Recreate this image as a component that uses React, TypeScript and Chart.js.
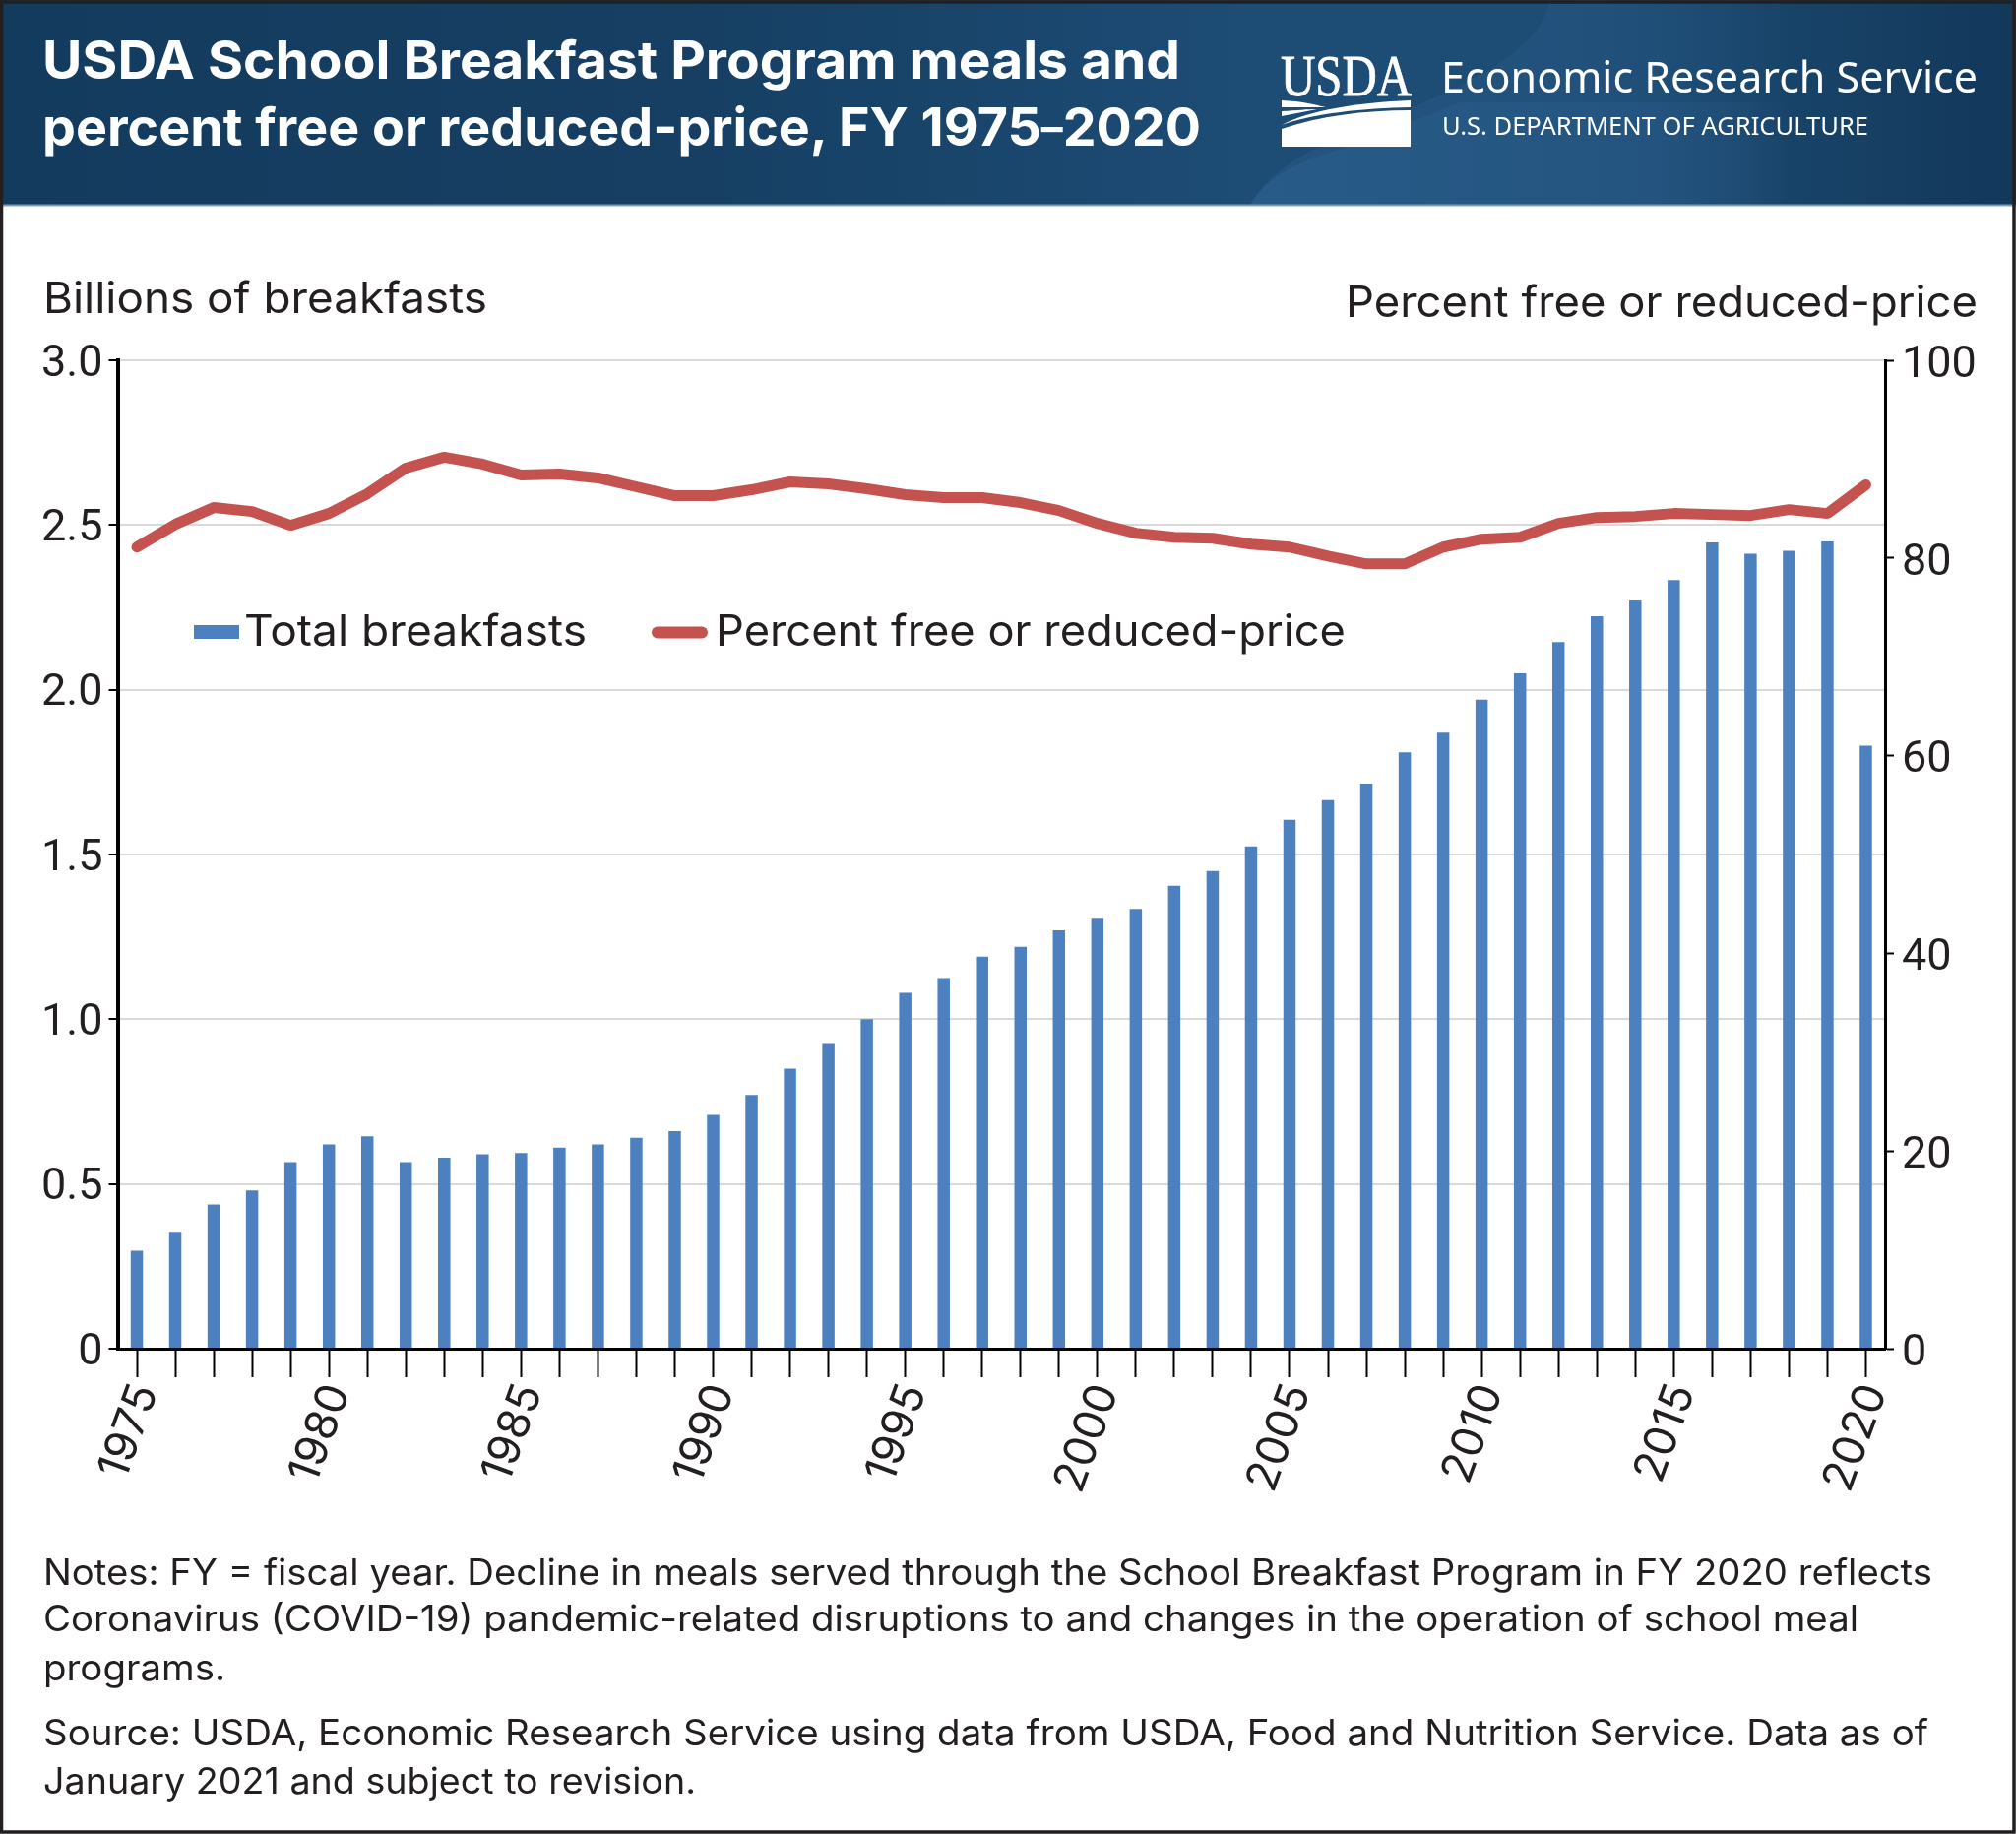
import React, { useEffect, useRef } from "react";
import Chart from "chart.js/auto";

const years = [
  "1975", "1976", "1977", "1978", "1979", "1980", "1981", "1982", "1983", "1984",
  "1985", "1986", "1987", "1988", "1989", "1990", "1991", "1992", "1993", "1994",
  "1995", "1996", "1997", "1998", "1999", "2000", "2001", "2002", "2003", "2004",
  "2005", "2006", "2007", "2008", "2009", "2010", "2011", "2012", "2013", "2014",
  "2015", "2016", "2017", "2018", "2019", "2020",
];

// billions of breakfasts
const totalBreakfasts = [
  0.297, 0.355, 0.4375, 0.48, 0.566, 0.62, 0.645, 0.566, 0.58, 0.59,
  0.594, 0.61, 0.62, 0.64, 0.66, 0.71, 0.77, 0.85, 0.925, 1.0,
  1.08, 1.125, 1.19, 1.22, 1.27, 1.305, 1.335, 1.405, 1.45, 1.525,
  1.605, 1.665, 1.715, 1.81, 1.87, 1.97, 2.05, 2.145, 2.223, 2.274,
  2.333, 2.447, 2.413, 2.422, 2.45, 1.83,
];

// percent free or reduced-price
const percentFree = [
  81.1, 83.4, 85.1, 84.7, 83.3, 84.5, 86.5, 89.1, 90.2, 89.5,
  88.4, 88.5, 88.1, 87.2, 86.3, 86.3, 86.9, 87.7, 87.5, 87.0,
  86.4, 86.1, 86.1, 85.6, 84.8, 83.5, 82.5, 82.1, 82.0, 81.4,
  81.1, 80.2, 79.4, 79.4, 81.1, 81.9, 82.1, 83.5, 84.1, 84.2,
  84.5, 84.4, 84.3, 84.9, 84.5, 87.4,
];

const titleLine1 = "USDA School Breakfast Program meals and";
const titleLine2 = ["percent free or reduced-price, FY 1975", "–", "2020"];
const noteLines = [
  "Notes: FY = fiscal year. Decline in meals served through the School Breakfast Program in FY 2020 reflects",
  "Coronavirus (COVID-19) pandemic-related disruptions to and changes in the operation of school meal",
  "programs.",
];
const sourceLines = [
  "Source: USDA, Economic Research Service using data from USDA, Food and Nutrition Service. Data as of",
  "January 2021 and subject to revision.",
];

const INK = "#231f20";
const BLUE = "#4d80bf";
const RED = "#c4524f";
const FONT = "Inter";

// the tick digits sit a little low against their tick marks in the original
const nudgeLabels = {
  id: "nudgeLabels",
  afterLayout(chart: any) {
    const shifts: Record<string, number[]> = { left: [0, 4.5], right: [0, 5.5], x: [9, -2] };
    Object.keys(shifts).forEach((id) => {
      const items = chart.scales[id].getLabelItems(chart.chartArea);
      items.forEach((it: any) => {
        it.options.translation[0] += shifts[id][0];
        it.options.translation[1] += shifts[id][1];
      });
    });
  },
};

const App: React.FC = () => {
  const chartRef = useRef<HTMLCanvasElement | null>(null);

  useEffect(() => {
    if (!chartRef.current) return;
    const chart = new Chart(chartRef.current, {
      type: "bar",
      plugins: [nudgeLabels],
      data: {
        labels: years,
        datasets: [
          {
            type: "line",
            label: "Percent free or reduced-price",
            data: percentFree,
            yAxisID: "right",
            borderColor: RED,
            borderWidth: 11,
            borderCapStyle: "round",
            borderJoinStyle: "bevel",
            pointRadius: 0,
            tension: 0,
            order: 1,
          },
          {
            type: "bar",
            label: "Total breakfasts",
            data: totalBreakfasts,
            yAxisID: "left",
            backgroundColor: BLUE,
            barPercentage: 0.32,
            categoryPercentage: 1,
            order: 2,
          },
        ],
      },
      options: {
        animation: false,
        responsive: false,
        devicePixelRatio: 1,
        layout: { padding: { top: 366 } },
        plugins: { legend: { display: false }, tooltip: { enabled: false } },
        scales: {
          x: {
            offset: true,
            afterFit: (s: any) => { s.height = 493; },
            grid: {
              offset: false,
              drawOnChartArea: false,
              tickLength: 29,
              tickColor: "#000",
              tickWidth: 2,
            },
            border: { color: "#000", width: 3 },
            ticks: {
              autoSkip: false,
              minRotation: 70,
              maxRotation: 70,
              padding: 2,
              color: INK,
              font: { family: "Inter", size: 45 },
              callback: (_v: any, i: number) => (i % 5 === 0 ? years[i] : ""),
            },
          },
          left: {
            position: "left",
            min: 0,
            max: 3,
            afterFit: (s: any) => { s.width = 119.5; },
            grid: { color: "#d9d9d9", lineWidth: 2, tickColor: "#000", tickLength: 9, tickWidth: 2 },
            border: { color: "#000", width: 4 },
            ticks: {
              stepSize: 0.5,
              padding: 6,
              color: INK,
              font: { family: "Roboto", size: 45 },
              callback: (v: any) => (v === 0 ? "0" : Number(v).toFixed(1)),
            },
          },
          right: {
            position: "right",
            min: 0,
            max: 100,
            afterFit: (s: any) => { s.width = 133; },
            grid: { drawOnChartArea: false, tickColor: "#000", tickLength: 9, tickWidth: 2 },
            border: { color: "#000", width: 3 },
            ticks: {
              stepSize: 20,
              padding: 8,
              color: INK,
              font: { family: "Roboto", size: 45 },
            },
          },
        },
      },
    });
    return () => chart.destroy();
  }, []);

  return (
    <div style={{ position: "absolute", left: 0, top: 0, width: 2048, height: 1863, background: "#fff", overflow: "hidden" }}>
      <canvas ref={chartRef} width={2048} height={1863} style={{ position: "absolute", left: 0, top: 0, display: "block" }} />
      <svg width={2048} height={1863} style={{ position: "absolute", left: 0, top: 0, fontFamily: FONT }}>
        <defs>
          <linearGradient id="band" x1="0" x2="1" y1="0" y2="0">
            <stop offset="0" stopColor="#123b5e" />
            <stop offset="0.35" stopColor="#163f63" />
            <stop offset="0.62" stopColor="#1d4c75" />
            <stop offset="0.8" stopColor="#1d4c74" />
            <stop offset="1" stopColor="#12385a" />
          </linearGradient>
          <linearGradient id="wave" x1="0" x2="1" y1="0" y2="0">
            <stop offset="0" stopColor="#285b88" />
            <stop offset="0.6" stopColor="#255682" />
            <stop offset="1" stopColor="#255682" stopOpacity="0" />
          </linearGradient>
        </defs>

        {/* header band */}
        <rect x={0} y={0} width={2048} height={209} fill="url(#band)" />
        <path d="M1270 209 C1285 180 1320 155 1372 135 C1470 95 1560 60 1574 4 L1820 4 L1820 209 Z" fill="url(#wave)" opacity="0.55" />
        <path d="M1270 209 C1285 180 1320 163 1372 148 C1420 128 1450 118 1484 104 L1820 104 L1820 209 Z" fill="url(#wave)" />
        <rect x={0} y={207.5} width={2048} height={2} fill="#7f9db8" />

        {/* title */}
        <text x={43} y={80} fill="#fff" fontWeight={700} fontSize={54} textLength={1156} lengthAdjust="spacingAndGlyphs">{titleLine1}</text>
        <text x={43} y={148} fill="#fff" fontWeight={700} fontSize={54} textLength={1177} lengthAdjust="spacingAndGlyphs">
          {titleLine2[0]}
          <tspan fontSize={44} dy={-3}>{titleLine2[1]}</tspan>
          <tspan dy={3}>{titleLine2[2]}</tspan>
        </text>

        {/* logo */}
        <text x={1301} y={97} fill="#fff" stroke="#fff" strokeWidth={0.8} fontFamily="Liberation Serif" fontSize={59} textLength={133} lengthAdjust="spacingAndGlyphs">USDA</text>
        <path d="M1302 102 C1322 103 1335 106 1347 109 L1302 109 Z M1302 113 C1318 112 1328 111 1338 111 C1326 113 1314 116 1302 118 Z M1302 127 C1330 112 1380 104 1433 102 L1433 109 C1385 110 1335 115 1302 127 Z M1302 149 L1302 131 C1340 118 1385 112 1433 112 L1433 149 Z" fill="#fff" />
        <text x={1464} y={94} fill="#fff" fontFamily="Noto Sans" fontSize={43} textLength={545} lengthAdjust="spacingAndGlyphs">Economic Research Service</text>
        <text x={1465} y={137} fill="#fff" fontFamily="Noto Sans" fontSize={25.5} textLength={433} lengthAdjust="spacingAndGlyphs">U.S. DEPARTMENT OF AGRICULTURE</text>

        {/* axis titles */}
        <text x={44} y={318} fill={INK} fontSize={44} textLength={451} lengthAdjust="spacingAndGlyphs">Billions of breakfasts</text>
        <text x={1367} y={322} fill={INK} fontSize={44} textLength={642} lengthAdjust="spacingAndGlyphs">Percent free or reduced-price</text>

        {/* legend */}
        <rect x={197} y={635} width={46} height={14} fill={BLUE} />
        <text x={248} y={656} fill={INK} fontSize={44} textLength={348} lengthAdjust="spacingAndGlyphs">Total breakfasts</text>
        <line x1={668} y1={642.5} x2={713} y2={642.5} stroke={RED} strokeWidth={12} strokeLinecap="round" />
        <text x={727} y={656} fill={INK} fontSize={44} textLength={640} lengthAdjust="spacingAndGlyphs">Percent free or reduced-price</text>

        {/* notes */}
        <text x={44} y={1609.5} fill={INK} fontSize={36.5} textLength={1919} lengthAdjust="spacingAndGlyphs">{noteLines[0]}</text>
        <text x={44} y={1657} fill={INK} fontSize={36.5} textLength={1844} lengthAdjust="spacingAndGlyphs">{noteLines[1]}</text>
        <text x={44} y={1706.5} fill={INK} fontSize={36.5} textLength={185} lengthAdjust="spacingAndGlyphs">{noteLines[2]}</text>
        <text x={44} y={1773} fill={INK} fontSize={36.5} textLength={1915} lengthAdjust="spacingAndGlyphs">{sourceLines[0]}</text>
        <text x={44} y={1821.5} fill={INK} fontSize={36.5} textLength={663} lengthAdjust="spacingAndGlyphs">{sourceLines[1]}</text>

        {/* frame */}
        <rect x={1.5} y={2} width={2044.5} height={1859} fill="none" stroke={INK} strokeWidth={3.5} />
      </svg>
    </div>
  );
};

export default App;
